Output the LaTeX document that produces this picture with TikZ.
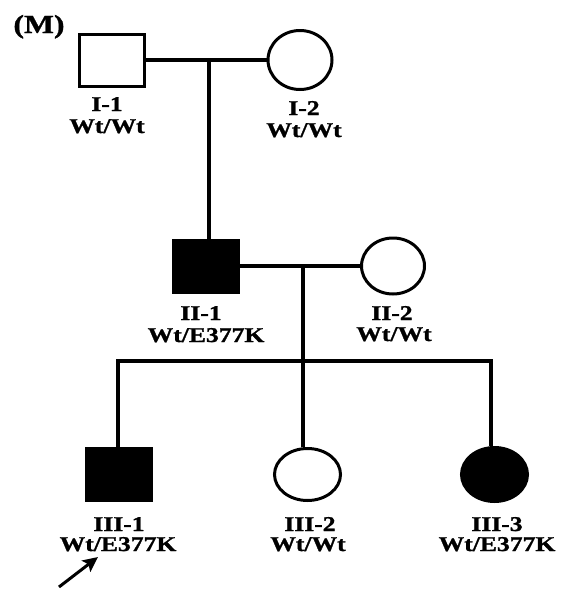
\documentclass[tikz,border=0pt]{standalone}
\usepackage{fontspec}
\setmainfont{Liberation Serif}[FakeStretch=1.22,BoldFeatures={FakeBold=1.2}]
\usetikzlibrary{shapes.geometric,arrows.meta}
\begin{document}
\begin{tikzpicture}[x=1pt,y=-1pt,
  male/.style={draw,line width=3pt,rectangle,inner sep=0pt,minimum width=65pt,minimum height=52pt},
  female/.style={draw,line width=3pt,ellipse,inner sep=0pt},
  affected/.style={fill=black},
  link/.style={line width=4.5pt},
  lab/.style={anchor=base,inner sep=0pt,font=\fontsize{21}{21}\selectfont\bfseries}]
\useasboundingbox (0,0) rectangle (562,590);

% panel letter
\node[anchor=base,inner sep=0pt,font=\fontsize{26}{26}\selectfont\bfseries] (panel) at (39,33) {(M)};

% generation I
\node[male] (i1) at (112,60) {};
\node[female,minimum width=64pt,minimum height=59pt] (i2) at (300,60) {};
% generation II
\node[male,affected] (ii1) at (206,266) {};
\node[female,minimum width=63pt,minimum height=56pt] (ii2) at (393,266) {};
% generation III
\node[male,affected] (iii1) at (119,474.5) {};
\node[female,minimum width=66pt,minimum height=52pt] (iii2) at (307.5,474.5) {};
\node[female,affected,minimum width=66pt,minimum height=54pt] (iii3) at (494.5,474.5) {};

% mating and descent lines
\coordinate (m1) at (209,60);
\coordinate (m2) at (303,266);
\coordinate (sl) at (118,361);
\coordinate (sr) at (491,361);
\draw[link] (i1.east) -- (i2.west);
\draw[link] (m1) -- (m1 |- ii1.north);
\draw[link] (ii1.east) -- (ii2.west);
\draw[link] (m2) -- (m2 |- sl);
\draw[link,line cap=rect] (sl) -- (sr);
\draw[link] (sl) -- (sl |- iii1.north);
\draw[link] (m2 |- sl) -- (m2 |- iii2.north);
\draw[link] (sr) -- (sr |- iii3.north);

% labels
\node[lab] (t-i1a) at (107,111) {I-1};
\node[lab] (t-i1b) at (107,133) {Wt/Wt};
\node[lab] (t-i2a) at (304,115) {I-2};
\node[lab] (t-i2b) at (304,137) {Wt/Wt};
\node[lab] (t-ii1a) at (201,320) {II-1};
\node[lab] (t-ii1b) at (206,342) {Wt/E377K};
\node[lab] (t-ii2a) at (392,320) {II-2};
\node[lab] (t-ii2b) at (394,341) {Wt/Wt};
\node[lab] (t-iii1a) at (119,531) {III-1};
\node[lab] (t-iii1b) at (118,551) {Wt/E377K};
\node[lab] (t-iii2a) at (310,531) {III-2};
\node[lab] (t-iii2b) at (308,551) {Wt/Wt};
\node[lab] (t-iii3a) at (497,531) {III-3};
\node[lab] (t-iii3b) at (497,551) {Wt/E377K};

% proband arrow
\coordinate (pa) at (59,587);
\coordinate (pb) at (98,557);
\draw[line width=3pt,-{Stealth[length=15pt,width=14pt,inset=3pt]}] (pa) -- (pb);
\end{tikzpicture}
\end{document}
